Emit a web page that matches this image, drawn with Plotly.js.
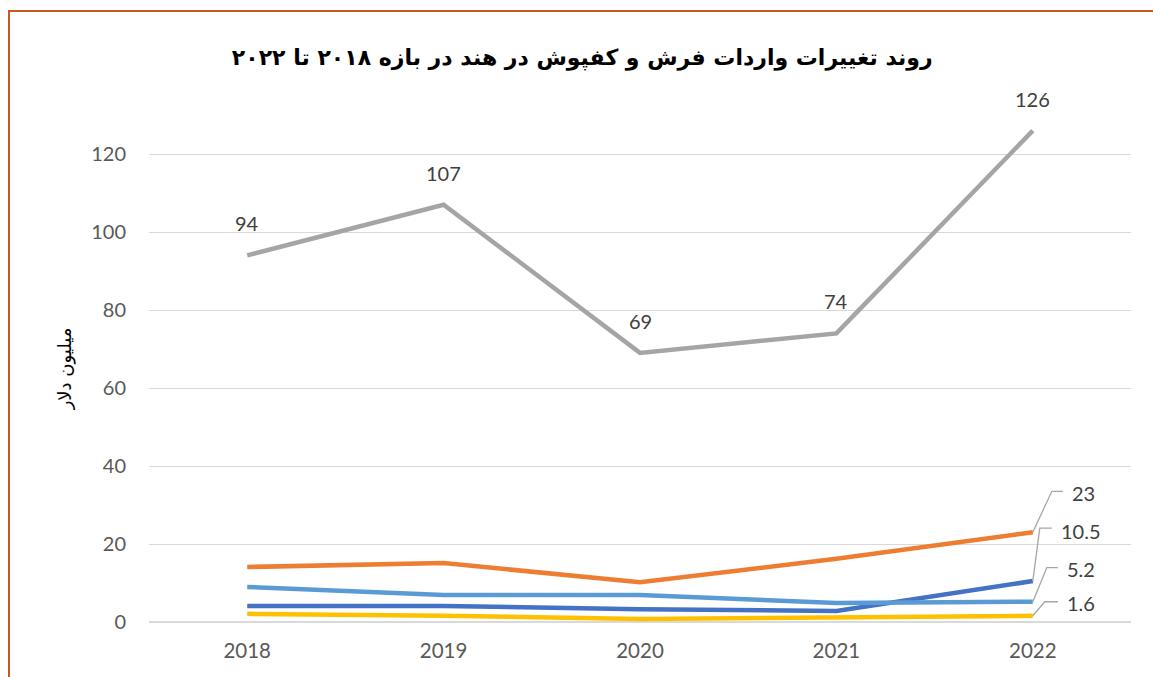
<!DOCTYPE html>
<html>
<head>
<meta charset="utf-8">
<script src="https://cdn.plot.ly/plotly-3.0.1.min.js"></script>
<style>
  html, body { margin: 0; padding: 0; background: #fff; }
  #chart { position: absolute; left: 0; top: 0; width: 1153px; height: 677px; }
  #frame { position: absolute; left: 8px; top: 10px; width: 1153px; height: 677px;
           border-left: 2px solid #C65A1E; border-top: 2px solid #C65A1E; pointer-events: none; }
</style>
</head>
<body>
<div id="chart"></div>
<div id="frame"></div>
<script>
const years = ['2018', '2019', '2020', '2021', '2022'];
const seriesDarkBlue = [4.1, 4.1, 3.3, 2.8, 10.5];
const seriesOrange = [14.1, 15.1, 10.2, 16.2, 23];
const seriesGray = [94, 107, 69, 74, 126];
const seriesYellow = [2.1, 1.6, 0.8, 1.2, 1.6];
const seriesLightBlue = [9.0, 6.9, 6.9, 4.9, 5.2];

const titleText = 'روند تغییرات واردات فرش و کفپوش در هند در بازه ۲۰۱۸ تا ۲۰۲۲';
const yTitleText = 'میلیون دلار';

function line(y, color) {
  return { x: years, y: y, type: 'scatter', mode: 'lines',
           line: { color: color, width: 4.5 }, hoverinfo: 'skip', showlegend: false };
}

const traces = [
  line(seriesDarkBlue, '#4472C4'),
  line(seriesOrange, '#ED7D31'),
  line(seriesGray, '#A5A5A5'),
  line(seriesYellow, '#FFC000'),
  line(seriesLightBlue, '#5B9BD5')
];

const labelFont = { family: 'Lato, "Open Sans", sans-serif', size: 20, color: '#404040' };
const annotations = [];
seriesGray.forEach((v, i) => {
  annotations.push({ x: i, y: v, xref: 'x', yref: 'y', text: String(v),
    showarrow: false, yshift: 32, font: labelFont });
});
const last = years.length - 1;
// leader styling: elbow offsets (px), end of horizontal tick, text offsets
const leaderLabels = [
  { s: seriesOrange,    ex: 19, ey: 41, hx: 30, tx: 37, ty: 39 },
  { s: seriesDarkBlue,  ex: 7,  ey: 53, hx: 19, tx: 26, ty: 50 },
  { s: seriesLightBlue, ex: 14, ey: 34, hx: 25, tx: 32, ty: 33 },
  { s: seriesYellow,    ex: 12, ey: 14, hx: 25, tx: 32, ty: 13 }
];
const shapes = [];
leaderLabels.forEach(d => {
  const v = d.s[last];
  annotations.push({ x: last, y: v, xref: 'x', yref: 'y', text: String(v),
    showarrow: false, xanchor: 'left', xshift: d.tx, yshift: d.ty, font: labelFont });
  shapes.push({ type: 'path', xref: 'x', yref: 'y', xsizemode: 'pixel', ysizemode: 'pixel',
    xanchor: last, yanchor: v,
    path: 'M0,0 L' + d.ex + ',' + d.ey + ' L' + d.hx + ',' + d.ey,
    line: { color: '#A6A6A6', width: 1.3 } });
});

const layout = {
  width: 1153, height: 677,
  margin: { l: 149, r: 22, t: 115, b: 55 },
  paper_bgcolor: '#fff', plot_bgcolor: '#fff',
  title: { text: '<b>' + titleText + '</b>', x: 0.505, xanchor: 'center', y: 0.915, yanchor: 'middle',
           font: { family: '"DejaVu Sans", sans-serif', size: 22, color: '#000' } },
  xaxis: { type: 'category', range: [-0.5, 4.5], autorange: false, showgrid: false, zeroline: false, showline: false,
           ticks: '', ticklabelstandoff: 14,
           tickfont: { family: 'Lato, "Open Sans", sans-serif', size: 20.5, color: '#595959' } },
  yaxis: { range: [0, 130], autorange: false, dtick: 20, tick0: 0, showgrid: true, gridcolor: '#D9D9D9', gridwidth: 1,
           zeroline: true, zerolinecolor: '#D9D9D9', zerolinewidth: 1.5, showline: false, ticks: '',
           ticklabelstandoff: 22,
           tickfont: { family: 'Lato, "Open Sans", sans-serif', size: 20, color: '#595959' },
           title: { text: yTitleText, standoff: 14,
                    font: { family: '"DejaVu Sans", sans-serif', size: 18, color: '#000' } } },
  annotations: annotations,
  shapes: shapes,
  showlegend: false
};

Plotly.newPlot('chart', traces, layout, { staticPlot: true, displayModeBar: false });
</script>
</body>
</html>
